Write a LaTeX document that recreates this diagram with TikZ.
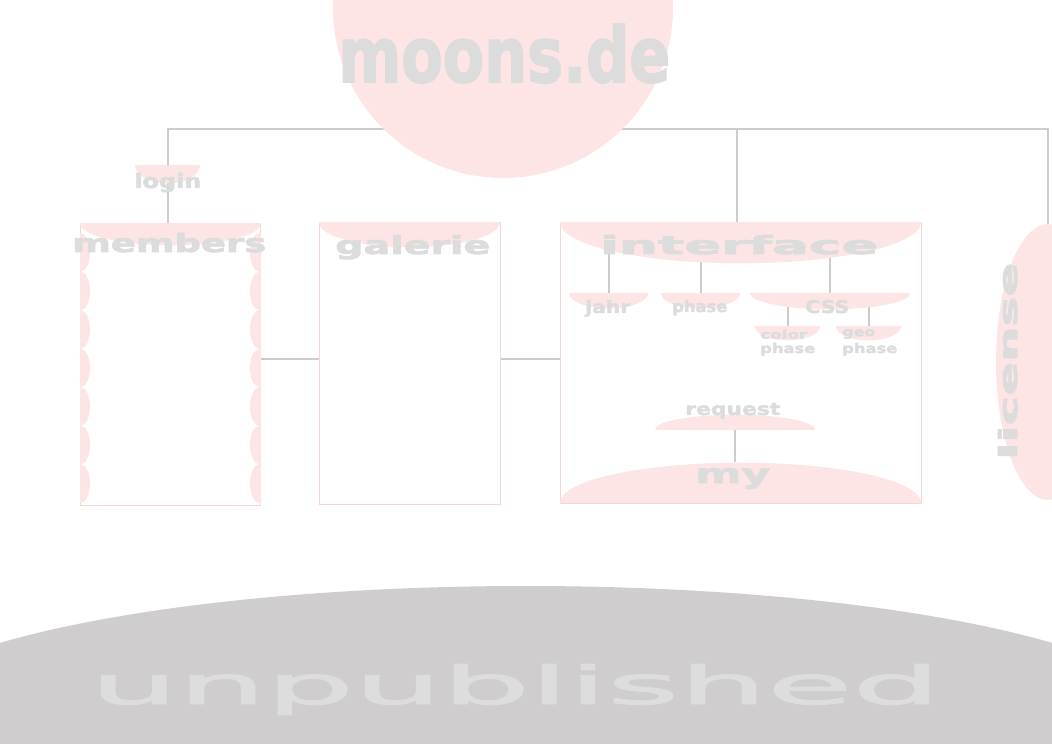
\documentclass[tikz,border=0pt]{standalone}
\usepackage{fontspec}
\setmainfont{DejaVu Sans}[BoldFeatures={FakeBold=2.5}, UprightFeatures={FakeBold=1.5}]
\usetikzlibrary{shapes.geometric}

\definecolor{moonpink}{RGB}{253,229,229}
\definecolor{textgray}{RGB}{220,220,220}
\definecolor{linkgray}{RGB}{204,204,204}
\definecolor{framepink}{RGB}{242,214,216}
\definecolor{fieldgray}{RGB}{208,205,207}
\definecolor{fieldtext}{RGB}{221,221,221}

\newdimen\pxl \pxl=0.25mm
\newcommand\stretched[3]{\resizebox{#1\pxl}{#2\pxl}{#3}}

\pgfdeclarelayer{back}
\pgfsetlayers{back,main}

\begin{document}
\begin{tikzpicture}[x=0.25mm, y=-0.25mm,
	link/.style={draw=linkgray, line width=0.5mm},
	frame/.style={rectangle, draw=framepink, line width=0.3mm, inner sep=0pt, anchor=north west},
	bowl/.style 2 args={rectangle, inner sep=0pt, anchor=north, minimum width={#1*\pxl}, minimum height={#2*\pxl},
		path picture={\fill[moonpink] (path picture bounding box.north) ellipse[x radius={#1*\pxl/2}, y radius={#2*\pxl}];}},
	dome/.style 2 args={rectangle, inner sep=0pt, anchor=south, minimum width={#1*\pxl}, minimum height={#2*\pxl},
		path picture={\fill[moonpink] (path picture bounding box.south) ellipse[x radius={#1*\pxl/2}, y radius={#2*\pxl}];}},
	word/.style={inner sep=0pt, text=textgray, font=\bfseries, anchor=base west}]
	\begin{pgfonlayer}{back}
		\fill[white] (0,0) rectangle (1052,744);
	\end{pgfonlayer}
	\useasboundingbox (0,0) rectangle (1052,744);
	\clip (0,0) rectangle (1052,744);
	\coordinate (trunk) at (0,129);
	\coordinate (mid) at (0,359);

	% site
	\node[circle, fill=moonpink, inner sep=0pt, minimum size={340*\pxl}] (moons) at (503,8) {};
	\node[word] (moonstext) at (338,82) {\stretched{332}{58}{moons.de}};

	% members
	\node[bowl={65}{18}] (login) at (167.5,165) {};
	\node[frame, minimum width={180*\pxl}, minimum height={281*\pxl}] (members) at (80,224) {};
	\begin{scope}
		\clip (members.south west) rectangle (members.north east);
		\foreach \y in {0,...,6}{
			\fill[moonpink] (80,{252.5+38.5*\y}) ellipse[x radius=10, y radius=19.5];
			\fill[moonpink] (260,{252.5+38.5*\y}) ellipse[x radius=10, y radius=19.5];}
	\end{scope}
	\node[bowl={181}{22}] (memhead) at (170.5,223) {};

	% galerie
	\node[frame, minimum width={181*\pxl}, minimum height={282*\pxl}] (galerie) at (319,222) {};
	\node[bowl={181}{25}] (galhead) at (409.5,222) {};

	% interface
	\node[frame, minimum width={361*\pxl}, minimum height={281*\pxl}] (interface) at (560,222) {};
	\node[bowl={361}{41}] (ifhead) at (740.5,222) {};
	\node[bowl={79}{15}] (jahr) at (608.5,293) {};
	\node[bowl={79}{15}] (phase) at (700.5,293) {};
	\node[bowl={160}{16}] (css) at (830,293) {};
	\node[bowl={65}{14}] (color) at (787.5,326) {};
	\node[bowl={65}{14}] (geo) at (868.5,326) {};
	\node[dome={160}{15}] (request) at (735,430) {};
	\node[dome={361}{40}] (my) at (740.5,503) {};

	% license, unpublished
	\node[ellipse, fill=moonpink, inner sep=0pt, minimum width={104*\pxl}, minimum height={276*\pxl}] (license) at (1048,362) {};
	\node[ellipse, fill=fieldgray, inner sep=0pt, minimum width={1300*\pxl}, minimum height={276*\pxl}] (unpub) at (526,724) {};

	\begin{pgfonlayer}{back}
		\draw[link] (login.south |- members.north) -- (login.north |- trunk) -- (license.north |- trunk) -- (license.north);
		\draw[link] ([xshift=-1mm]interface.north) -- ([xshift=-1mm]interface.north |- trunk);
		\draw[link] (members.east |- mid) -- (galerie.west |- mid);
		\draw[link] (galerie.east |- mid) -- (interface.west |- mid);
		\foreach \n in {jahr, phase, css}
			\draw[link] (\n.north) -- (\n.north |- ifhead.north);
		\foreach \n in {color, geo}
			\draw[link] (\n.north) -- (\n.north |- css.north);
		\draw[link] (request.south) -- (request.south |- my.north);
	\end{pgfonlayer}

	\node[word] (logintext) at (134,188) {\stretched{67}{15}{login}};
	\node[word] (memtext) at (72,252) {\stretched{194}{19}{members}};
	\node[word] (galtext) at (335,254) {\stretched{155}{19}{galerie}};
	\node[word] (iftext) at (600,254) {\stretched{278}{19}{interface}};
	\node[word] (jahrtext) at (585,313) {\stretched{45}{13}{jahr}};
	\node[word] (phasetext) at (672,312) {\stretched{55}{12}{phase}};
	\node[word] (csstext) at (805,313) {\stretched{44}{13}{CSS}};
	\node[word] (colortext) at (760,353) {\shortstack[l]{\stretched{47}{9}{color}\\\stretched{55}{10}{phase}}};
	\node[word] (geotext) at (842,353) {\shortstack[l]{\stretched{33}{7}{geo}\\\stretched{55}{10}{phase}}};
	\node[word] (reqtext) at (685,415) {\stretched{95}{12}{request}};
	\node[word] (mytext) at (695,483) {\stretched{75}{15}{my}};
	\node[word, rotate=90] (lictext) at (1017,460) {\stretched{197}{19}{license}};
	\node[word, text=fieldtext, font=\normalfont] (unpubtext) at (90,704) {\stretched{850}{40}{unpublished}};

\end{tikzpicture}
\end{document}
